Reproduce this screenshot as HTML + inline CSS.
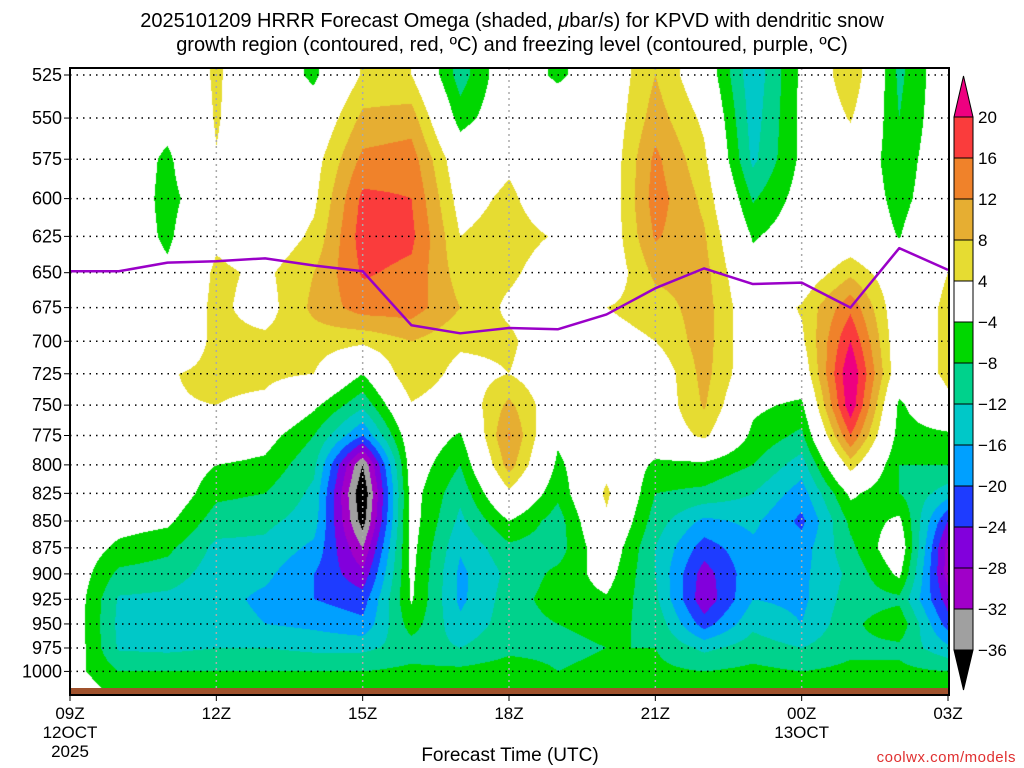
<!DOCTYPE html>
<html><head><meta charset="utf-8">
<style>
html,body{margin:0;padding:0;background:#fff;}
body{width:1024px;height:768px;position:relative;overflow:hidden;font-family:"Liberation Sans","DejaVu Sans",sans-serif;}
.t{position:absolute;white-space:nowrap;color:#000;}
#plot{position:absolute;left:70px;top:68px;}
svg{position:absolute;left:0;top:0;}
</style></head>
<body>
<div class="t" style="left:0;width:1024px;top:9px;text-align:center;font-size:20px;line-height:24px;">2025101209 HRRR Forecast Omega (shaded, <i>μ</i>bar/s) for KPVD with dendritic snow<br>growth region (contoured, red, ºC) and freezing level (contoured, purple, ºC)</div>
<canvas id="plot" width="878" height="627"></canvas>
<svg id="ov" width="1024" height="768"></svg>
<div class="t" style="left:0;width:1020px;top:745px;text-align:center;font-size:19px;">Forecast Time (UTC)</div>
<div class="t" style="right:8px;top:749px;font-size:15px;color:#e03030;letter-spacing:0.5px;">coolwx.com/models</div>
<script>
// ---- data ----
const hours = [0,1,2,3,4,5,6,7,8,9,10,11,12,13,14,15,16,17,18];
const xTickLabels = ["09Z","12Z","15Z","18Z","21Z","00Z","03Z"];
const xTickHours = [0,3,6,9,12,15,18];
const pressures = [525,550,575,600,625,650,675,700,725,750,775,800,825,850,875,900,925,950,975,1000,1025];
const yTickLabels = ["525","550","575","600","625","650","675","700","725","750","775","800","825","850","875","900","925","950","975","1000"];
const freezingLevel = [649,649,643,642,640,645,649,688,694,690,691,680,661,647,658,657,675,633,648];
const levels = [-36,-32,-28,-24,-20,-16,-12,-8,-4,4,8,12,16,20];
const legendLabels = ["20","16","12","8","4","−4","−8","−12","−16","−20","−24","−28","−32","−36"];
const omegaH0 = [0,0,0,0,0,0,0,0,0,0,0,0,0,0,0,0,0,0,0,-2,0];
const omegaH1 = [0,0,0,0,0,0,0,0,0,0,0,0,0,-2,-5,-9,-12.5,-13,-12.5,-8,-5];
const omegaH2 = [0,-2,-5,-5.5,-5,-3,0,0,3.7,3.7,0,0,0,-3,-7,-10,-13,-13.5,-13,-8,-5];
const omegaH3 = [4.6,4.4,3.8,0,3,5,5,5,5,4,0,-4,-7,-10,-13,-14,-14.5,-14,-12,-8,-5];
const omegaH4 = [0,0,0,0,0,3,2,5,5,3,-2,-5,-8,-11,-13,-15,-17,-16,-12,-8,-5];
const omegaH5 = [-5,-1,2,3,5,8,9,6,4,-3,-8,-11,-13,-14,-17,-20,-20,-17,-13,-8,-5];
const omegaH6 = [4.5,9,13,17,18,16.5,14,5,-4,-11,-20,-36,-40,-38,-32,-27,-22,-19,-13,-8,-5];
const omegaH7 = [4,10,14,16,17,15,14,8,8,3.5,0,-1,-2,-2,-2.5,-3,-3.5,-6,-10,-7,-5];
const omegaH8 = [-10,-6,0,2,4,6,8,5,2,0,-4.5,-8,-11,-13,-15.5,-17,-17,-15,-12,-7,-5];
const omegaH9 = [0,0,3,5,6,5,3,5,4,9,12.5,10,3,-4,-9,-11,-10,-10,-9,-6,-5];
const omegaH10 = [-5,0,0,0,3.5,1,0,0,0,0,-3,-5,-7,-10,-10,-7,-6,-8,-9,-8,-5];
const omegaH11 = [0,0,0,0,0,0,4,2,0,0,0,2,5,3,0,-2,-4.5,-7,-8,-7,-5];
const omegaH12 = [8,10,13,14,12.5,9,6,4,0,0,0,-5,-8,-10,-12,-12,-11,-9,-8,-7,-5];
const omegaH13 = [0,3,5,7,8.5,9.5,10,10,9.5,8.5,5,-5,-9,-17,-22,-26,-27,-22,-13,-8,-5];
const omegaH14 = [-15,-14,-13,-8.5,-4.5,-2,0,0,0,-3,-5,-8,-12,-15,-17,-17,-16,-13,-10,-7,-5];
const omegaH15 = [-3,-3,-3,-2,-1,0,4.5,3,0,-5,-9,-14,-18,-21,-18,-17,-17,-16,-12,-8,-5];
const omegaH16 = [8,4.5,0,0,0,7,15,20,24,23,16,6,-3,-7,-9,-11,-10,-9,-9,-7,-5];
const omegaH17 = [-9,-8,-6.5,-5.5,-4.2,0,0,0,0,-5,-6,-8,-8,-3,0,-3,-9,-5,-9,-7,-5];
const omegaH18 = [0,0,0,0,2,4,5,5,5,3,-5,-8,-14,-24,-30,-30,-26,-22,-15,-8,-5];
const omegaCols = [omegaH0,omegaH1,omegaH2,omegaH3,omegaH4,omegaH5,omegaH6,omegaH7,omegaH8,omegaH9,omegaH10,omegaH11,omegaH12,omegaH13,omegaH14,omegaH15,omegaH16,omegaH17,omegaH18];

// ---- styles ----
const bandColors = [[0,0,0],[160,160,160],[160,0,200],[130,0,220],[30,60,255],[0,160,255],[0,200,200],[0,210,140],[0,215,0],[255,255,255],[230,220,50],[230,174,50],[240,130,42],[250,60,60],[238,0,128]];
const X0=70, X1=948, Y0=68, Y1=695;
const pxPerHour=(X1-X0)/18;
const lnTop=Math.log(525), pxPerLn=925.6, yTop=75;
function xOf(h){return X0+h*pxPerHour;}
function yOf(p){return yTop+(Math.log(p)-lnTop)*pxPerLn;}
function colorFor(v){let i=0;while(i<levels.length&&v>=levels[i])i++;return bandColors[i];}

// ---- shaded field ----
const cv=document.getElementById('plot');const ctx=cv.getContext('2d');
const W=cv.width,H=cv.height;const img=ctx.createImageData(W,H);
const lnP=pressures.map(p=>Math.log(p));
for(let py=0;py<H;py++){
  const y=Y0+py+0.5;
  const lp=lnTop+(y-yTop)/pxPerLn;
  let r=0;while(r<lnP.length-2&&lp>lnP[r+1])r++;
  let fy=(lp-lnP[r])/(lnP[r+1]-lnP[r]);fy=Math.max(0,Math.min(1,fy));
  for(let px=0;px<W;px++){
    let hh=(px+0.5)/pxPerHour;let c=Math.min(17,Math.floor(hh));let fx=Math.max(0,Math.min(1,hh-c));
    const a=omegaCols[c][r],b=omegaCols[c+1][r],d=omegaCols[c][r+1],e=omegaCols[c+1][r+1];
    const v=(a*(1-fx)+b*fx)*(1-fy)+(d*(1-fx)+e*fx)*fy;
    const col=colorFor(v);const k=(py*W+px)*4;
    img.data[k]=col[0];img.data[k+1]=col[1];img.data[k+2]=col[2];img.data[k+3]=255;
  }
}
ctx.putImageData(img,0,0);

// ---- overlay ----
const NS='http://www.w3.org/2000/svg';const sv=document.getElementById('ov');
function mk(tag,attrs,parent){const el=document.createElementNS(NS,tag);for(const k in attrs)el.setAttribute(k,attrs[k]);(parent||sv).appendChild(el);return el;}
const terr=mk('rect',{x:X0,y:688,width:X1-X0,height:7,fill:'#a0522d'});


yTickLabels.forEach((lab,i)=>{
  const y=yOf(+lab);
  const g=mk('line',{x1:X0,x2:X1,y1:y,y2:y,stroke:'#000','stroke-width':1.5,'stroke-dasharray':'1.5 5'});
  
  
  const tk=mk('line',{x1:X0-6,x2:X0,y1:y,y2:y,stroke:'#000','stroke-width':1});
  
  
  const t=mk('text',{x:X0-8,y:y+6,'text-anchor':'end','font-size':18,'font-family':'Liberation Sans, sans-serif',fill:'#000'});
  t.textContent=lab;
  
  
});
xTickHours.forEach((h,i)=>{
  const x=xOf(h);
  if(h>0&&h<18){
    const g=mk('line',{x1:x,x2:x,y1:Y0,y2:688,stroke:'#aaa','stroke-width':1.5,'stroke-dasharray':'2 4'});
    
    
  }
  const tk=mk('line',{x1:x,x2:x,y1:Y1,y2:Y1+6,stroke:'#000','stroke-width':1});
  
  
  const t=mk('text',{x:x,y:719,'text-anchor':'middle','font-size':17,'font-family':'Liberation Sans, sans-serif',fill:'#000'});
  t.textContent=xTickLabels[i];
  
  
});
[["12OCT",X0,738],["2025",X0,757],["13OCT",xOf(15),738]].forEach(d=>{
  const t=mk('text',{x:d[1],y:d[2],'text-anchor':'middle','font-size':17,'font-family':'Liberation Sans, sans-serif',fill:'#000'});
  t.textContent=d[0];
  
  
});
const fl=mk('polyline',{points:freezingLevel.map((p,i)=>xOf(hours[i])+','+yOf(p)).join(' '),fill:'none',stroke:'#9a00c8','stroke-width':2.5,'stroke-linejoin':'round'});


const fr=mk('path',{d:`M${X0},${Y0}H${X1+1}V${Y1}H${X0}Z`,fill:'none',stroke:'#000','stroke-width':2});


const cbX=954,cbW=19,cbTop=117,cbStep=41;
const cb=mk('g',{});


const nBox=levels.length-1;
for(let i=0;i<nBox;i++){
  const col=bandColors[levels.length-1-i];
  const r=mk('rect',{x:cbX,y:cbTop+i*cbStep,width:cbW,height:cbStep,fill:`rgb(${col})`,stroke:'#000','stroke-width':1},cb);
  
  
}
const yb=cbTop+nBox*cbStep;
const tUp=mk('path',{d:`M${cbX},${cbTop}L${cbX+cbW/2},76L${cbX+cbW},${cbTop}Z`,fill:`rgb(${bandColors[14]})`,stroke:'#000','stroke-width':1},cb);


const tDn=mk('path',{d:`M${cbX},${yb}L${cbX+cbW/2},${yb+40}L${cbX+cbW},${yb}Z`,fill:'#000',stroke:'#000','stroke-width':1},cb);


legendLabels.forEach((lab,i)=>{
  const t=mk('text',{x:978,y:cbTop+i*cbStep+6,'font-size':17,'font-family':'Liberation Sans, sans-serif',fill:'#000'},cb);
  t.textContent=lab;
  
  
});
</script>
</body></html>
